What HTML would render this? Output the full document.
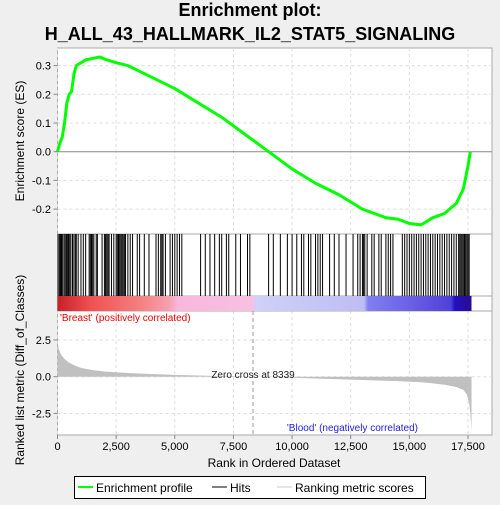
<!DOCTYPE html>
<html><head><meta charset="utf-8"><style>
body{margin:0;background:#efefef;font-family:"Liberation Sans",sans-serif}
svg text{font-family:"Liberation Sans",sans-serif}
</style></head><body>
<svg width="500" height="500" viewBox="0 0 500 500" id="chart">
<rect width="500" height="500" fill="#efefef"/>
<text x="250" y="16" text-anchor="middle" font-size="18" font-weight="bold">Enrichment plot:</text>
<text x="250" y="40" text-anchor="middle" font-size="18" font-weight="bold">H_ALL_43_HALLMARK_IL2_STAT5_SIGNALING</text>
<rect x="57.5" y="48" width="434.5" height="387" fill="#fff" stroke="#aaa"/>
<g id="grid"></g>
<line x1="57.5" y1="234" x2="492" y2="234" stroke="#aaa"/>
<line x1="57.5" y1="296" x2="492" y2="296" stroke="#aaa"/>
<line x1="57.5" y1="311" x2="492" y2="311" stroke="#aaa"/>
<defs><linearGradient id="cb" x1="0" x2="1">
<stop offset="0" stop-color="#c8202a"/><stop offset="0.08" stop-color="#f05050"/><stop offset="0.2" stop-color="#f58080"/><stop offset="0.27" stop-color="#f6a0b0"/><stop offset="0.29" stop-color="#f8b8dc"/><stop offset="0.47" stop-color="#f8c0e0"/><stop offset="0.48" stop-color="#d0d0f8"/><stop offset="0.74" stop-color="#c0bcf4"/><stop offset="0.75" stop-color="#8080f0"/><stop offset="0.9" stop-color="#6050e0"/><stop offset="0.95" stop-color="#5040d8"/><stop offset="0.96" stop-color="#2010c0"/><stop offset="1" stop-color="#2a0a90"/>
</linearGradient></defs>
<rect x="57.5" y="296" width="414" height="15" fill="url(#cb)"/>
<g id="hits"></g>
<g id="metric"></g>
<g id="es"></g>
<line x1="253" y1="311" x2="253" y2="435" stroke="#999" stroke-dasharray="4,3"/>
<text x="253" y="378" text-anchor="middle" font-size="10" fill="#222">Zero cross at 8339</text>
<text x="60" y="321" font-size="10" fill="#e00">'Breast' (positively correlated)</text>
<text x="418" y="431" text-anchor="end" font-size="10" fill="#22d">'Blood' (negatively correlated)</text>
<g id="axes"></g>
<text x="24" y="141" text-anchor="middle" font-size="12" transform="rotate(-90 24 141)">Enrichment score (ES)</text>
<text x="24" y="370" text-anchor="middle" font-size="12" transform="rotate(-90 24 370)">Ranked list metric (Diff_of_Classes)</text>
<text x="274" y="467" text-anchor="middle" font-size="12">Rank in Ordered Dataset</text>
<g>
<rect x="74.5" y="476.5" width="351" height="22" fill="#fff" stroke="#000"/>
<line x1="78" y1="487" x2="93" y2="487" stroke="#0f0" stroke-width="2"/>
<text x="96" y="492" font-size="12">Enrichment profile</text>
<line x1="212" y1="487" x2="227" y2="487" stroke="#000"/>
<text x="230" y="492" font-size="12">Hits</text>
<line x1="277" y1="487" x2="292" y2="487" stroke="#ccc"/>
<text x="295" y="492" font-size="12">Ranking metric scores</text>
</g>
</svg>
<script>
const esRanks=[0,100,200,300,400,500,600,700,800,1000,1200,1500,1800,2100,2500,3000,3500,4000,5000,6000,7000,8000,8339,9000,10000,11000,12000,13000,14000,14500,15000,15500,16000,16500,17000,17300,17500,17600];
const esValues=[0,0.03,0.05,0.1,0.17,0.2,0.21,0.27,0.3,0.31,0.32,0.325,0.33,0.32,0.31,0.3,0.28,0.26,0.22,0.17,0.12,0.06,0.04,0,-0.06,-0.11,-0.15,-0.2,-0.23,-0.235,-0.25,-0.255,-0.23,-0.215,-0.18,-0.13,-0.05,0];
const hitRanks=[30,90,130,170,220,280,330,380,420,470,520,570,640,700,760,800,880,1000,1100,1200,1350,1400,1450,1500,1550,1650,1700,1900,2000,2050,2100,2150,2200,2300,2400,2500,2550,2600,2650,2700,2750,2800,2850,2900,3000,3100,3200,3400,3500,3700,3900,4200,4300,4400,4450,4500,4600,4800,4900,5000,5100,5200,5300,6100,6300,6500,6700,6900,7000,7200,7300,7600,7800,8100,8200,9000,9200,9500,9800,10000,10200,10400,10500,10700,10800,11000,11100,11200,11300,11600,11800,12000,12300,12600,12800,12900,13000,13050,13100,13200,13400,13500,13700,13800,14000,14100,14200,14300,14700,14800,14900,15000,15100,15200,15300,15400,15500,15600,15700,15800,15900,16000,16100,16200,16300,16400,16500,16600,16700,16800,16900,17000,17100,17150,17200,17250,17300,17350,17400,17450,17500,17550];
const metricRanks=[0,50,150,300,500,750,1000,1500,2000,3000,4000,5000,6000,7000,8339,9500,10500,11500,12500,13500,14500,15500,16000,16500,17000,17300,17450,17550,17600,17650];
const metricValues=[2.5,1.9,1.5,1.2,0.95,0.75,0.6,0.45,0.35,0.25,0.18,0.12,0.08,0.04,0,-0.05,-0.1,-0.15,-0.2,-0.25,-0.3,-0.38,-0.45,-0.55,-0.7,-0.9,-1.2,-1.8,-2.5,-3.7];
const xTicks=[0,2500,5000,7500,10000,12500,15000,17500];
const xTickLabels=["0","2,500","5,000","7,500","10,000","12,500","15,000","17,500"];
const esTicks=[0.3,0.2,0.1,0.0,-0.1,-0.2];
const esTickLabels=["0.3","0.2","0.1","0.0","-0.1","-0.2"];
const mTicks=[2.5,0,-2.5];
const mTickLabels=["2.5","0.0","-2.5"];
const NS="http://www.w3.org/2000/svg";
const X=r=>57.5+r*(410.5/17500);
const YE=v=>151.7-v*287;
const YM=v=>376.7-v*14.7;
function mk(tag,attrs,parent){const e=document.createElementNS(NS,tag);for(const k in attrs)e.setAttribute(k,attrs[k]);document.getElementById(parent).appendChild(e);return e;}
xTicks.forEach((t,i)=>{
 const g1=mk('line',{x1:X(t),x2:X(t),y1:48,y2:234,stroke:'#ddd','stroke-dasharray':'3,3'},'grid');
 
 const g2=mk('line',{x1:X(t),x2:X(t),y1:311,y2:435,stroke:'#ddd','stroke-dasharray':'3,3'},'grid');
 
 mk('line',{x1:X(t),x2:X(t),y1:435,y2:439,stroke:'#888'},'axes');
 const tx=mk('text',{x:X(t),y:450,'text-anchor':'middle','font-size':11},'axes');tx.textContent=xTickLabels[i];
 
});
esTicks.forEach((t,i)=>{
 if(t!==0){const g=mk('line',{x1:57.5,x2:492,y1:YE(t),y2:YE(t),stroke:'#ddd','stroke-dasharray':'3,3'},'grid');
 }
 mk('line',{x1:53.5,x2:57.5,y1:YE(t),y2:YE(t),stroke:'#888'},'axes');
 const tx=mk('text',{x:51,y:YE(t)+4,'text-anchor':'end','font-size':11},'axes');tx.textContent=esTickLabels[i];
 
});
const zl=mk('line',{x1:57.5,x2:492,y1:YE(0),y2:YE(0),stroke:'#888'},'grid');

mTicks.forEach((t,i)=>{
 const g=mk('line',{x1:57.5,x2:492,y1:YM(t),y2:YM(t),stroke:'#ddd','stroke-dasharray':'3,3'},'grid');
 
 mk('line',{x1:53.5,x2:57.5,y1:YM(t),y2:YM(t),stroke:'#888'},'axes');
 const tx=mk('text',{x:51,y:YM(t)+4,'text-anchor':'end','font-size':11},'axes');tx.textContent=mTickLabels[i];
 
});
hitRanks.forEach(r=>{
 const l=mk('line',{x1:X(r),x2:X(r),y1:234,y2:296,stroke:'#000','stroke-width':1},'hits');
 
});
let pts=[[X(0),YM(0)]];
metricRanks.forEach((r,i)=>pts.push([X(r),YM(metricValues[i])]));
pts.push([X(17650),YM(0)]);
const mp=mk('polygon',{points:pts.map(p=>p.join(',')).join(' '),fill:'#c0c0c0'},'metric');

const ep=mk('polyline',{points:esRanks.map((r,i)=>X(r)+','+YE(esValues[i])).join(' '),fill:'none',stroke:'#00ff00','stroke-width':3,'stroke-linejoin':'round'},'es');

</script>
</body></html>
